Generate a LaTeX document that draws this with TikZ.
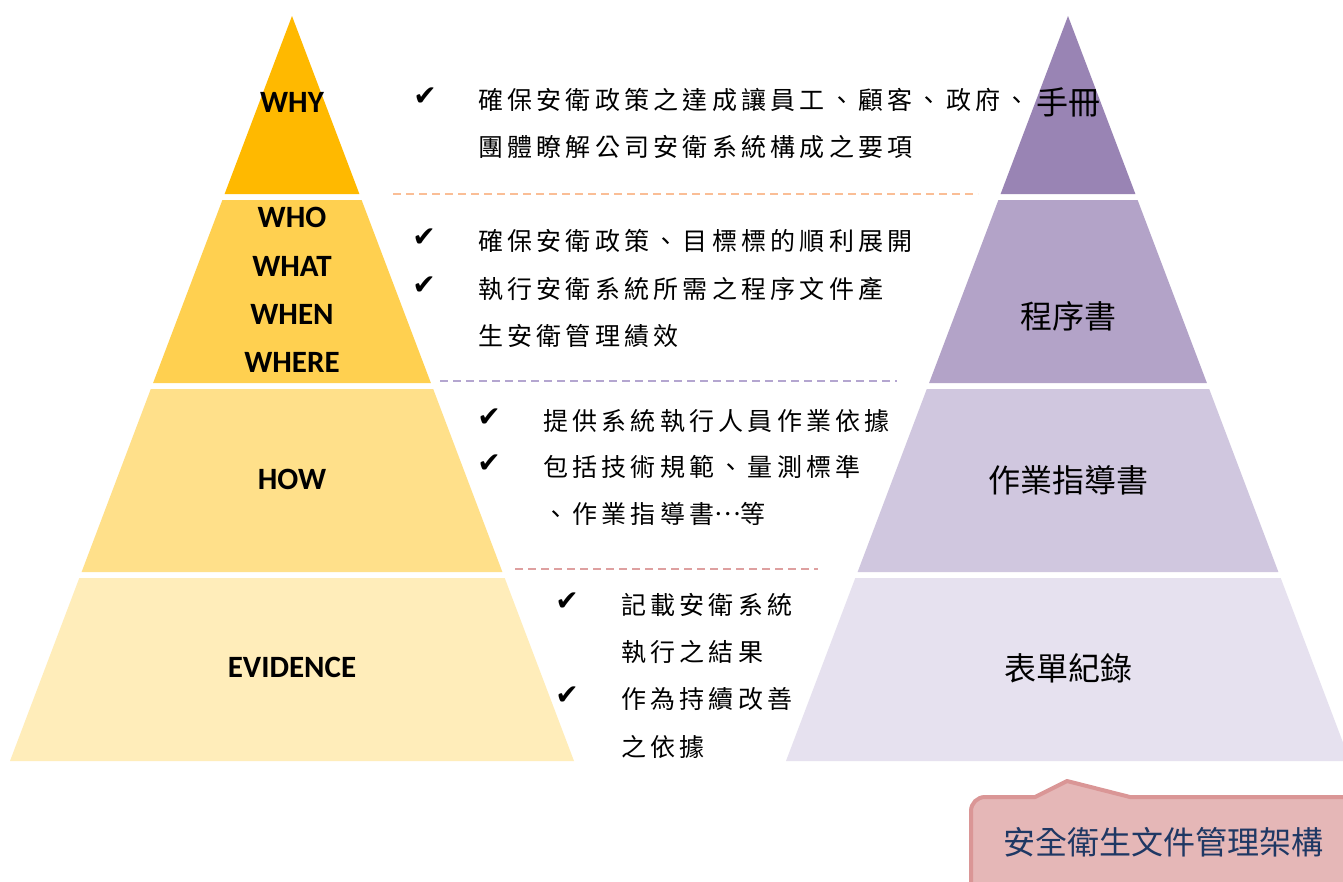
\documentclass[tikz,border=0pt]{standalone}
\usepackage{fontspec}
\newfontfamily\labfont{Carlito}
\newfontfamily\cjkfont{Noto Sans CJK TC}
\newfontfamily\midcjk{Noto Sans CJK TC}[LetterSpace=17]
\newfontfamily\symfont{DejaVu Sans}
\definecolor{lA}{RGB}{255,185,0}
\definecolor{lB}{RGB}{255,208,80}
\definecolor{lC}{RGB}{255,224,138}
\definecolor{lD}{RGB}{255,237,186}
\definecolor{rA}{RGB}{153,132,180}
\definecolor{rB}{RGB}{179,163,200}
\definecolor{rC}{RGB}{208,199,223}
\definecolor{rD}{RGB}{230,225,239}
\definecolor{dashA}{RGB}{250,190,150}
\definecolor{dashB}{RGB}{180,166,208}
\definecolor{dashC}{RGB}{222,160,160}
\definecolor{calfill}{RGB}{229,183,183}
\definecolor{caldraw}{RGB}{218,150,150}
\definecolor{caltext}{RGB}{31,56,100}
\tikzset{
  lbl/.style={inner sep=0pt, font=\labfont\bfseries\fontsize{31}{37}\selectfont},
  rlbl/.style={inner sep=0pt, font=\cjkfont\fontsize{32}{38}\selectfont},
  txt/.style={anchor=west, inner sep=0pt, font=\midcjk\fontsize{25}{30}\selectfont},
  chk/.style={inner sep=0pt, font=\symfont\fontsize{28}{30}\selectfont},
  sep/.style={line width=2pt, dash pattern=on 8pt off 5pt},
  callout/.style={fill=calfill, draw=caldraw, line width=4pt, line join=round}
}
\begin{document}
\begin{tikzpicture}[x=1pt,y=-1pt]
\clip (0,0) rectangle (1343,881);
\fill[white] (0,0) rectangle (1343,881);
% left pyramid
\fill[lA] (292,16) -- (359.4,194) -- (224.6,194) -- cycle;
\fill[lB] (222.4,200) -- (361.6,200) -- (430.9,383) -- (153.1,383) -- cycle;
\fill[lC] (150.8,389) -- (433.2,389) -- (502.4,572) -- (81.6,572) -- cycle;
\fill[lD] (79.3,578) -- (504.7,578) -- (574,761) -- (10,761) -- cycle;
% right pyramid
\begin{scope}[xshift=776pt]
\fill[rA] (292,16) -- (359.4,194) -- (224.6,194) -- cycle;
\fill[rB] (222.4,200) -- (361.6,200) -- (430.9,383) -- (153.1,383) -- cycle;
\fill[rC] (150.8,389) -- (433.2,389) -- (502.4,572) -- (81.6,572) -- cycle;
\fill[rD] (79.3,578) -- (504.7,578) -- (574,761) -- (10,761) -- cycle;
\end{scope}
% dashed separators
\coordinate (sa1) at (393,194); \coordinate (sa2) at (978,194);
\coordinate (sb1) at (440,381); \coordinate (sb2) at (897,381);
\coordinate (sc1) at (515,569); \coordinate (sc2) at (818,569);
\draw[sep, dashA] (sa1) -- (sa2);
\draw[sep, dashB] (sb1) -- (sb2);
\draw[sep, dashC] (sc1) -- (sc2);
% left labels
\node[lbl] (why) at (292,102) {WHY};
\node[lbl] (who) at (292,217) {WHO};
\node[lbl] (what) at (292,266) {WHAT};
\node[lbl] (when) at (292,314) {WHEN};
\node[lbl] (where) at (292,362) {WHERE};
\node[lbl] (how) at (292,479) {HOW};
\node[lbl] (evid) at (292,667) {EVIDENCE};
% right labels
\node[rlbl] (manual) at (1068,102) {手冊};
\node[rlbl] (proc) at (1068,316) {程序書};
\node[rlbl] (instr) at (1068,480) {作業指導書};
\node[rlbl] (form) at (1068,668) {表單紀錄};
% middle texts
\node[chk] (c1) at (425,97) {✔};
\node[txt] (t1a) at (478,100) {確保安衛政策之達成讓員工、顧客、政府、};
\node[txt] (t1b) at (478,147) {團體瞭解公司安衛系統構成之要項};
\node[chk] (c2) at (424,238) {✔};
\node[txt] (t2a) at (478,241) {確保安衛政策、目標標的順利展開};
\node[chk] (c3) at (424,286) {✔};
\node[txt] (t2b) at (478,289) {執行安衛系統所需之程序文件產};
\node[txt] (t2c) at (478,336) {生安衛管理績效};
\node[chk] (c4) at (489,418) {✔};
\node[txt] (t3a) at (543,421) {提供系統執行人員作業依據};
\node[chk] (c5) at (489,464) {✔};
\node[txt] (t3b) at (543,467) {包括技術規範、量測標準};
\node[txt] (t3c) at (543,514) {、作業指導書\raisebox{0.32em}{…}等};
\node[chk] (c6) at (567,602) {✔};
\node[txt] (t4a) at (621,605) {記載安衛系統};
\node[txt] (t4b) at (621,652) {執行之結果};
\node[chk] (c7) at (567,696) {✔};
\node[txt] (t4c) at (621,699) {作為持續改善};
\node[txt] (t4d) at (621,747) {之依據};
% callout
\draw[callout] (1360,797) -- (1130,797) -- (1067,781) -- (1035,797)
  [rounded corners=14pt] -- (971,797) -- (971,900) [sharp corners] -- (1360,900) -- cycle;
\node[inner sep=0pt, font=\cjkfont\fontsize{32}{38}\selectfont, text=caltext] (cap) at (1163,842) {安全衛生文件管理架構};
\end{tikzpicture}
\end{document}
